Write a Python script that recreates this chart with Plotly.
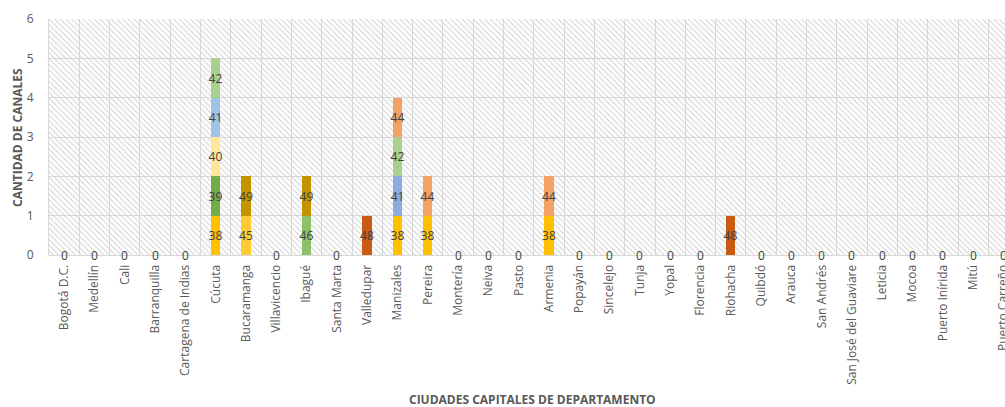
import plotly.graph_objects as go

# Capital cities, in axis order
cities = [
    "Bogotá D.C.", "Medellín", "Cali", "Barranquilla", "Cartagena de Indias",
    "Cúcuta", "Bucaramanga", "Villavicencio", "Ibagué", "Santa Marta",
    "Valledupar", "Manizales", "Pereira", "Montería", "Neiva", "Pasto",
    "Armenia", "Popayán", "Sincelejo", "Tunja", "Yopal", "Florencia",
    "Riohacha", "Quibdó", "Arauca", "San Andrés", "San José del Guaviare",
    "Leticia", "Mocoa", "Puerto Inírida", "Mitú", "Puerto Carreño",
]

# One stacked segment per channel, listed bottom to top within each city
seg_city = [
    "Cúcuta", "Cúcuta", "Cúcuta", "Cúcuta", "Cúcuta",
    "Bucaramanga", "Bucaramanga",
    "Ibagué", "Ibagué",
    "Valledupar",
    "Manizales", "Manizales", "Manizales", "Manizales",
    "Pereira", "Pereira",
    "Armenia", "Armenia",
    "Riohacha",
]
seg_channel = [
    38, 39, 40, 41, 42,
    45, 49,
    46, 49,
    48,
    38, 41, 42, 44,
    38, 44,
    38, 44,
    48,
]
seg_value = [1] * 5 + [1] * 2 + [1] * 2 + [1] + [1] * 4 + [1] * 2 + [1] * 2 + [1]

y_ticks = [0, 1, 2, 3, 4, 5, 6]

# Styling
channel_colors = {
    38: "#FFC000", 39: "#70AD47", 40: "#FFE699", 41: "#9DC3E6",
    42: "#A9D18E", 44: "#F3A164", 45: "#FFCB33", 46: "#8CC168",
    48: "#C95B14", 49: "#C49400",
}
color_override = {("Manizales", 41): "#8FAADC"}
label_color = "#404040"
axis_text = "#595959"
grid_color = "#D9D9D9"
font_family = "Open Sans, Liberation Sans, sans-serif"

y_max = y_ticks[-1]
x_range = [-0.5, len(cities) - 0.95]

fig = go.Figure()

# Hatched plot background, one full-height cell per category
fig.add_trace(go.Bar(
    x=cities, y=[y_max] * len(cities), width=1,
    marker=dict(color="#D0D0D0", line=dict(width=0),
                pattern=dict(shape="\\", size=4, solidity=0.25, fillmode="replace")),
    hoverinfo="skip", showlegend=False,
))

# Stacked channel segments
for city, ch, val in zip(seg_city, seg_channel, seg_value):
    col = color_override.get((city, ch), channel_colors[ch])
    fig.add_trace(go.Bar(
        x=[city], y=[val], width=0.31, text=[str(ch)],
        textposition="inside", insidetextanchor="middle", textangle=0,
        constraintext="none", cliponaxis=False,
        insidetextfont=dict(color=label_color, size=12, family=font_family),
        marker=dict(color=col, line=dict(width=0)),
        xaxis="x2", yaxis="y2", showlegend=False, name=str(ch),
    ))

# "0" labels for cities without channels
totals = {c: 0 for c in cities}
for city, val in zip(seg_city, seg_value):
    totals[city] += val
zero_labels = [
    dict(x=c, y=0, xref="x", yref="y", text=str(totals[c]), showarrow=False,
         xanchor="center", yanchor="middle",
         font=dict(color=label_color, size=12, family=font_family))
    for c in cities if totals[c] == 0
]

fig.update_layout(
    width=1005, height=407,
    margin=dict(l=49, r=0, t=19, b=152),
    paper_bgcolor="white", plot_bgcolor="white",
    barmode="stack", bargap=0,
    font=dict(family=font_family, color=axis_text),
    xaxis=dict(
        type="category", categoryorder="array", categoryarray=cities,
        range=x_range, tickson="boundaries", showgrid=True,
        gridcolor=grid_color, gridwidth=1, ticks="", tickangle=-90,
        tickfont=dict(size=12, color=axis_text, family=font_family),
        ticklabelstandoff=4, automargin=False,
        showline=True, linecolor=grid_color, linewidth=1,
    ),
    yaxis=dict(
        range=[0, y_max], tickvals=y_ticks, showgrid=True,
        gridcolor=grid_color, gridwidth=1, zeroline=False, ticks="",
        tickfont=dict(size=12, color=axis_text, family=font_family),
        ticklabelstandoff=12, automargin=False,
        showline=True, linecolor=grid_color, linewidth=1, mirror=True,
    ),
    xaxis2=dict(
        type="category", categoryorder="array", categoryarray=cities,
        range=x_range, overlaying="x", visible=False,
    ),
    yaxis2=dict(range=[0, y_max], overlaying="y", visible=False),
    annotations=zero_labels + [
        dict(text="<b>CANTIDAD DE CANALES</b>", xref="paper", yref="paper",
             x=-0.0335, y=0.5, textangle=-90, showarrow=False,
             xanchor="center", yanchor="middle",
             font=dict(size=12, color=axis_text, family=font_family)),
        dict(text="<b>CIUDADES CAPITALES DE DEPARTAMENTO</b>", xref="paper",
             yref="paper", x=0.506, y=-0.614, showarrow=False,
             xanchor="center", yanchor="middle",
             font=dict(size=12, color=axis_text, family=font_family)),
    ],
)

fig.write_html("out.html")
